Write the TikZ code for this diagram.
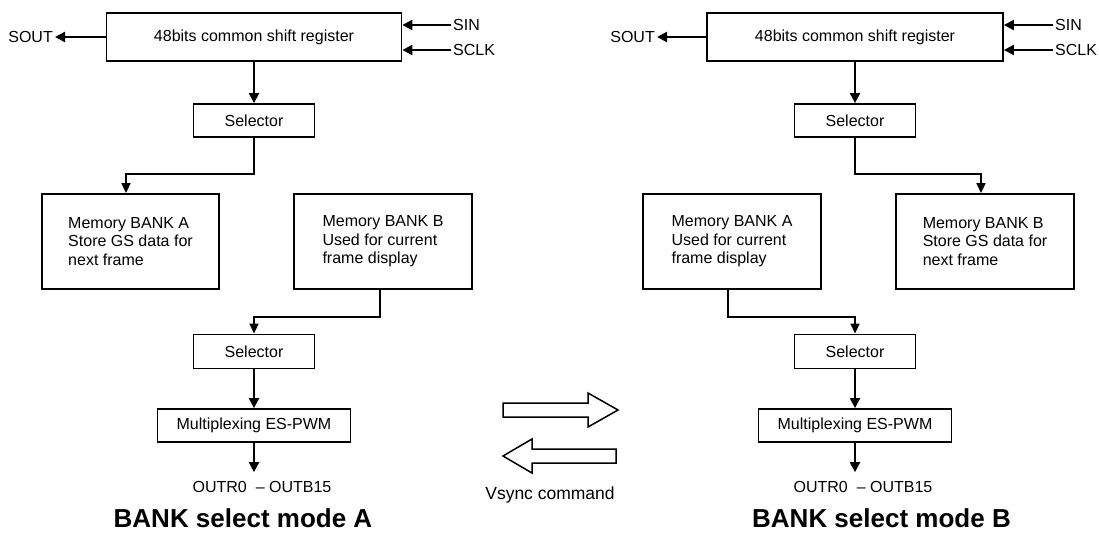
\documentclass[tikz,border=0pt]{standalone}
\usepackage{fontspec}
\setmainfont{Liberation Sans}
\usepackage{tikz}
\usetikzlibrary{arrows.meta}
\tikzset{ blk/.style = {rectangle, draw, line width=1.8pt, inner sep=0pt, font=\fontsize{16}{18.5}\selectfont} }
\tikzset{ sig/.style = {inner sep=2pt, font=\fontsize{16}{19}\selectfont} }
\tikzset{ flow/.style = {line width=2.2pt, -{Triangle[length=10pt,width=10pt]}} }
\tikzset{ wire/.style = {line width=1.6pt, -{Triangle[length=10pt,width=9pt]}} }
\tikzset{ hollow/.style = {draw, line width=1.5pt, line join=miter} }
\tikzset{ modetitle/.style = {font=\fontsize{26}{30}\selectfont\bfseries} }

\begin{document}
\begin{tikzpicture}[x=1pt, y=-1pt]
            \useasboundingbox (0,0) rectangle (1099,538);
            \node [blk, minimum width=295pt, minimum height=48pt] (regA) at (254, 37) {48bits common shift register};
            \node [sig, anchor=east] (soutA) at (55, 37) {SOUT};
            \node [sig, anchor=west] (sinA) at (451, 25) {SIN};
            \node [sig, anchor=west] (sclkA) at (451, 50) {SCLK};
            \node [blk, minimum width=121pt, minimum height=33pt] (selA1) at (254, 120.5) {Selector};
            \node [blk, minimum width=177pt, minimum height=95pt, align=left] (bankAA) at (130.5, 241.5) {Memory BANK A\\Store GS data for\\next frame};
            \node [blk, minimum width=178pt, minimum height=95pt, align=left] (bankAB) at (383, 241.5) {Memory BANK B\\Used for current\\frame display};
            \node [blk, minimum width=121pt, minimum height=34pt] (selA2) at (254, 351.5) {Selector};
            \node [blk, minimum width=193pt, minimum height=33pt] (muxA) at (254, 425.5) {Multiplexing ES-PWM};
            \node [sig] (outA) at (262, 487) {OUTR0\ \ – OUTB15};
            \node [modetitle] (modeA) at (243, 518.5) {BANK select mode A};
            \coordinate (kA1) at (126, 174);
            \coordinate (kA2) at (380, 317);
            \draw[flow] (regA.west) -- (soutA.east);
            \draw[flow] (sinA.west) -- (sinA.west -| regA.east);
            \draw[flow] (sclkA.west) -- (sclkA.west -| regA.east);
            \draw[flow] (regA) -- (selA1);
            \draw[wire] (selA1.south) |- (kA1) -- (kA1 |- bankAA.north);
            \draw[wire] (kA2 |- bankAB.south) -- (kA2) -| (selA2.north);
            \draw[flow] (selA2) -- (muxA);
            \draw[flow, shorten >=7pt] (muxA) -- (muxA.south |- outA.north);

            \node [blk, minimum width=296pt, minimum height=48pt] (regB) at (855, 37) {48bits common shift register};
            \node [sig, anchor=east] (soutB) at (657, 37) {SOUT};
            \node [sig, anchor=west] (sinB) at (1053, 25) {SIN};
            \node [sig, anchor=west] (sclkB) at (1053, 50) {SCLK};
            \node [blk, minimum width=121pt, minimum height=33pt] (selB1) at (855, 120.5) {Selector};
            \node [blk, minimum width=178pt, minimum height=95pt, align=left] (bankBA) at (732, 241.5) {Memory BANK A\\Used for current\\frame display};
            \node [blk, minimum width=178pt, minimum height=95pt, align=left] (bankBB) at (985, 241.5) {Memory BANK B\\Store GS data for\\next frame};
            \node [blk, minimum width=121pt, minimum height=34pt] (selB2) at (855, 351.5) {Selector};
            \node [blk, minimum width=193pt, minimum height=33pt] (muxB) at (855, 425.5) {Multiplexing ES-PWM};
            \node [sig] (outB) at (863, 487) {OUTR0\ \ – OUTB15};
            \node [modetitle] (modeB) at (881.5, 518.5) {BANK select mode B};
            \coordinate (kB1) at (981, 174);
            \coordinate (kB2) at (728, 317);
            \draw[flow] (regB.west) -- (soutB.east);
            \draw[flow] (sinB.west) -- (sinB.west -| regB.east);
            \draw[flow] (sclkB.west) -- (sclkB.west -| regB.east);
            \draw[flow] (regB) -- (selB1);
            \draw[wire] (selB1.south) |- (kB1) -- (kB1 |- bankBB.north);
            \draw[wire] (kB2 |- bankBA.south) -- (kB2) -| (selB2.north);
            \draw[flow] (selB2) -- (muxB);
            \draw[flow, shorten >=7pt] (muxB) -- (muxB.south |- outB.north);

            \draw[hollow] (503,403) -- (588,403) -- (588,393) -- (618,410) -- (588,427) -- (588,417) -- (503,417) -- cycle;
            \draw[hollow] (503,456) -- (532,439) -- (532,449) -- (616,449) -- (616,463) -- (532,463) -- (532,473) -- cycle;
            \node [font=\fontsize{17.5}{20}\selectfont] (vsync) at (550, 494.5) {Vsync command};
\end{tikzpicture}
\end{document}
